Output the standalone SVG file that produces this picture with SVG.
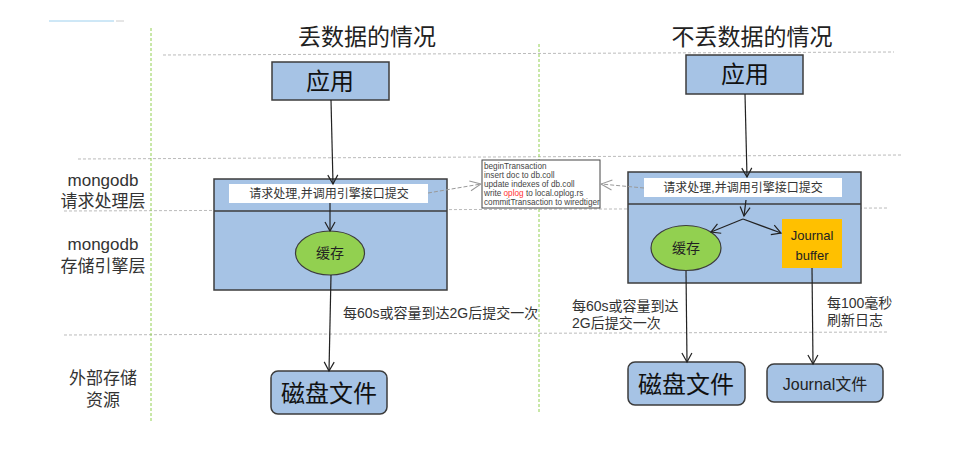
<svg xmlns="http://www.w3.org/2000/svg" width="954" height="461" viewBox="0 0 954 461">
<defs>
<marker id="ah" markerWidth="12" markerHeight="12" refX="10" refY="6" orient="auto" markerUnits="userSpaceOnUse">
<path d="M1,1 L10,6 L1,11" fill="none" stroke="#222" stroke-width="1.2"/>
</marker>
<marker id="ahg" markerWidth="14" markerHeight="12" refX="12" refY="6" orient="auto" markerUnits="userSpaceOnUse">
<path d="M1,1 L12,6 L1,11" fill="none" stroke="#999" stroke-width="1"/>
</marker>
<style>
.sep{stroke:#bbb;stroke-width:1;stroke-dasharray:3,2;fill:none}
.vg{stroke:#92d050;stroke-width:1;stroke-dasharray:3,2;fill:none}
.box{fill:#a6c3e5;stroke:#3c3c3c;stroke-width:1.5}
.wbox{fill:#fff}
.arr{stroke:#222;stroke-width:1.2;fill:none;marker-end:url(#ah)}
.darr{stroke:#999;stroke-width:1;stroke-dasharray:4,2;fill:none;marker-end:url(#ahg)}
text{font-family:"Liberation Sans","Noto Sans CJK SC",sans-serif}
.t{font-size:23px;fill:#222;text-anchor:middle}
.side{font-size:17px;fill:#333;text-anchor:middle}
.app{font-size:24px;fill:#111;text-anchor:middle}
.req{font-size:12px;fill:#333;text-anchor:middle}
.lbl{font-size:14px;fill:#333}
.note{font-size:8.2px;fill:#444}
</style>
</defs>
<rect width="954" height="461" fill="#fff"/>
<line x1="49" y1="21" x2="114" y2="21" stroke="#9dd0ee" stroke-width="1"/>
<line x1="116" y1="21" x2="124" y2="21" stroke="#ccc" stroke-width="1"/>
<g id="separators">
<line class="sep" x1="163" y1="55" x2="894" y2="52"/>
<line class="sep" x1="78" y1="159" x2="902" y2="155"/>
<line class="sep" x1="64" y1="211" x2="889" y2="208"/>
<line class="sep" x1="64" y1="335" x2="889" y2="332"/>
<line class="vg" x1="151" y1="28" x2="151" y2="421"/>
<line class="vg" x1="539" y1="44" x2="539" y2="414"/>
</g>
<g id="titles">
<text class="t" x="367" y="45">丢数据的情况</text>
<text class="t" x="752" y="45">不丢数据的情况</text>
</g>
<g id="side-labels">
<text class="side" x="103" y="186">mongodb</text>
<text class="side" x="103" y="207">请求处理层</text>
<text class="side" x="103" y="250">mongodb</text>
<text class="side" x="103" y="272">存储引擎层</text>
<text class="side" x="103" y="384">外部存储</text>
<text class="side" x="103" y="406">资源</text>
</g>
<g id="left-app"><rect class="box" x="272" y="62" width="117" height="38"/><text class="app" x="330" y="90">应用</text></g>
<g id="left-engine">
<rect class="box" x="214" y="179" width="233" height="111"/>
<line x1="214" y1="211" x2="447" y2="211" stroke="#3c3c3c" stroke-width="1.5"/>
<rect class="wbox" x="229" y="184" width="199" height="19"/>
<text class="req" x="329" y="198">请求处理,并调用引擎接口提交</text>
</g>
<g id="left-cache"><ellipse cx="330" cy="253" rx="34.5" ry="22" fill="#92d050" stroke="#3c3c3c" stroke-width="1.2"/><text x="330" y="258" font-size="14" fill="#222" text-anchor="middle">缓存</text></g>
<g id="left-disk"><rect class="box" x="271" y="371" width="116" height="43" rx="7"/><text class="app" x="329" y="402">磁盘文件</text></g>
<g id="note">
<rect x="482" y="160" width="118" height="48" fill="#fff" stroke="#444" stroke-width="1"/>
<text class="note" x="484" y="169">beginTransaction</text>
<text class="note" x="484" y="178">insert doc to db.coll</text>
<text class="note" x="484" y="187">update indexes of db.coll</text>
<text class="note" x="484" y="196">write <tspan fill="#ff3333">oplog</tspan> to local.oplog.rs</text>
<text class="note" x="484" y="205">commitTransaction to wiredtiger</text>
</g>
<g id="right-app"><rect class="box" x="686" y="55" width="117" height="39"/><text class="app" x="745" y="83">应用</text></g>
<g id="right-engine">
<rect class="box" x="628" y="172" width="233" height="111"/>
<line x1="628" y1="204" x2="861" y2="204" stroke="#3c3c3c" stroke-width="1.5"/>
<rect class="wbox" x="644" y="178" width="198" height="19"/>
<text class="req" x="743" y="192">请求处理,并调用引擎接口提交</text>
</g>
<g id="right-cache"><ellipse cx="686" cy="248" rx="35" ry="22.5" fill="#92d050" stroke="#3c3c3c" stroke-width="1.2"/><text x="686" y="253" font-size="14" fill="#222" text-anchor="middle">缓存</text></g>
<g id="journal-buffer"><rect x="782" y="219" width="60" height="49" fill="#ffc000"/><text x="812" y="240" font-size="13" fill="#222" text-anchor="middle">Journal</text><text x="812" y="260" font-size="13" fill="#222" text-anchor="middle">buffer</text></g>
<g id="right-disk"><rect class="box" x="628" y="362" width="117" height="43" rx="7"/><text class="app" x="686" y="393">磁盘文件</text></g>
<g id="journal-file"><rect class="box" x="767" y="364" width="116" height="38" rx="7"/><text x="825" y="390" font-size="16" fill="#222" text-anchor="middle">Journal文件</text></g>
<g id="connectors">
<line class="arr" x1="331" y1="100" x2="333" y2="184"/>
<line class="arr" x1="330" y1="203" x2="330" y2="231"/>
<line class="arr" x1="331" y1="275" x2="329" y2="371"/>
<line class="darr" x1="428" y1="193" x2="481" y2="184"/>
<line class="darr" x1="644" y1="188" x2="601" y2="184"/>
<line class="arr" x1="745" y1="94" x2="747" y2="177"/>
<line class="arr" x1="746" y1="200" x2="744" y2="216"/>
<line class="arr" x1="743" y1="219" x2="711" y2="232"/>
<line class="arr" x1="743" y1="219" x2="781" y2="233"/>
<line class="arr" x1="686" y1="271" x2="687" y2="362"/>
<line class="arr" x1="812" y1="268" x2="813" y2="364"/>
</g>
<g id="labels">
<text class="lbl" x="343" y="318">每60s或容量到达2G后提交一次</text>
<text class="lbl" x="572" y="311">每60s或容量到达</text>
<text class="lbl" x="572" y="328">2G后提交一次</text>
<text class="lbl" x="827" y="308">每100毫秒</text>
<text class="lbl" x="827" y="325">刷新日志</text>
</g>
</svg>
